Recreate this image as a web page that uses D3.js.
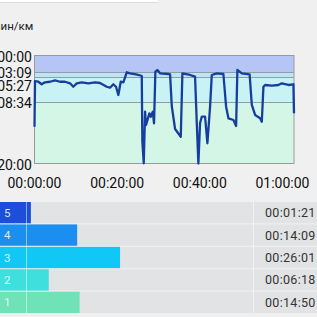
<!DOCTYPE html>
<html><head><meta charset="utf-8">
<script src="https://cdn.jsdelivr.net/npm/d3@7"></script>
<style>
html,body{margin:0;padding:0;background:#f0f0f0;overflow:hidden}
svg{display:block;font-family:Roboto,"Noto Sans",sans-serif}
</style></head>
<body>
<script>
// ---- data ----
const unitLabel = "мин/км";
// pace trace: elapsed minutes, pace (min/km)
const traceTime = [0,0.12,0.92,1.74,2.54,3.75,4.96,6.17,7.38,8.6,9.39,10.22,11.43,13.03,14.65,15.86,17.48,18.28,19.08,19.73,20.29,20.87,21.5,22.32,23.12,24.58,25.67,25.96,26.1,26.44,26.76,27.0,27.8,28.14,28.62,28.93,29.25,29.73,30.39,32.4,32.81,33.22,34.02,35.4,35.79,37.65,38.86,39.27,39.66,40.07,40.48,41.28,41.84,42.49,42.9,44.12,45.71,46.37,46.93,48.14,48.79,49.1,50.17,52.06,52.59,53.39,54.6,55.01,55.4,55.81,57.43,59.03,59.85,61.45,62.66,62.8];
const tracePace = [13.16,5.92,6.01,6.33,6.08,6.01,5.83,6.01,6.01,6.21,6.64,6.21,6.08,6.21,6.08,6.17,6.64,6.76,6.33,6.64,7.68,6.01,6.08,3.15,3.61,4.07,4.62,4.85,15.95,19.96,10.37,12.84,10.67,11.3,10.37,12.53,3.04,2.72,3.61,3.93,4.07,9.31,13.59,15.02,3.61,4.39,5.17,12.47,20,12.47,11.3,11.3,16.24,9.44,4.39,3.61,3.93,9.44,11.6,11.91,13.03,2.72,3.61,4.07,9.12,10.98,11.6,12.23,6.64,6.42,6.51,6.42,6.21,6.42,6.33,10.67];
// zone boundaries (pace, min/km) and y tick labels
const paceTicks = [0, 3.15, 5.45, 8.5667, 20];
const paceTickLabels = ["00:00","03:09","05:27","08:34","20:00"];
// x ticks (minutes)
const timeTicks = [0, 20, 40, 60];
const timeTickLabels = ["00:00:00","00:20:00","00:40:00","01:00:00"];
const totalMinutes = 62.8;
// zone histogram
const zoneNames = ["5","4","3","2","1"];
const zoneMinutes = [1 + 21/60, 14 + 9/60, 26 + 1/60, 6 + 18/60, 14 + 50/60];
const zoneLabels = ["00:01:21","00:14:09","00:26:01","00:06:18","00:14:50"];
const zoneColors = ["#1b4fdb","#1a8ff0","#11c7f5","#3edfdd","#6fe3b7"];
const bandColors = ["#b5c6f6","#bde5f6","#c8f2f3","#d4f6e7"];

// ---- layout ----
const W = 317, H = 317;
const svg = d3.select("body").append("svg").attr("width", W).attr("height", H);
svg.append("rect").attr("width", W).attr("height", H).attr("fill", "#f0f0f0");
// top card remnant
svg.append("rect").attr("x", 0).attr("y", 0).attr("width", 158).attr("height", 2).attr("fill", "#ffffff");
svg.append("rect").attr("x", 0).attr("y", 2).attr("width", 158).attr("height", 1).attr("fill", "#dcdcdc");

const plot = {l: 34.5, r: 294, t: 55.5, b: 163.5};
const x = d3.scaleLinear().domain([0, totalMinutes]).range([plot.l, plot.r]);
// pace axis: piecewise linear through the zone boundaries
const y = d3.scaleLinear().domain(paceTicks).range([plot.t, 72.3, 77.3, 102, plot.b]).clamp(true);

svg.append("text").attr("x", -8).attr("y", 30).attr("font-size", 11.5).attr("fill", "#222").text(unitLabel);

// bands
const bands = [[0,3.15],[3.15,5.45],[5.45,8.5667],[8.5667,20]];
svg.selectAll("rect.band").data(bands).enter().append("rect")
  .attr("x", plot.l).attr("width", plot.r - plot.l)
  .attr("y", d => y(d[0])).attr("height", d => y(d[1]) - y(d[0]))
  .attr("fill", (d, i) => bandColors[i]);
// boundary lines
svg.selectAll("line.zb").data(paceTicks.slice(1, 4)).enter().append("line")
  .attr("x1", plot.l).attr("x2", plot.r)
  .attr("y1", d => Math.round(y(d)) + 0.5).attr("y2", d => Math.round(y(d)) + 0.5)
  .attr("stroke", "#8d9ea6").attr("stroke-width", 1);
// border
svg.append("rect").attr("x", plot.l).attr("y", plot.t).attr("width", plot.r - plot.l).attr("height", plot.b - plot.t)
  .attr("fill", "none").attr("stroke", "#9a9a9a").attr("stroke-width", 1);

// trace
const pts = traceTime.map((t, i) => [t, tracePace[i]]);
svg.append("path").datum(pts)
  .attr("d", d3.line().x(d => x(d[0])).y(d => y(d[1])))
  .attr("fill", "none").attr("stroke", "#163e9f").attr("stroke-width", 2.3).attr("stroke-linejoin", "round");

// y labels with overlap avoidance
let prev = -1e9;
const ly = paceTicks.map(v => { let p = Math.max(y(v) + 1, prev + 12.5); prev = p; return p; });
svg.selectAll("text.yl").data(paceTickLabels).enter().append("text")
  .attr("x", 32).attr("y", (d, i) => ly[i]).attr("dy", "0.36em")
  .attr("text-anchor", "end").attr("font-size", 14).attr("fill", "#111").text(d => d);

// x labels
svg.selectAll("text.xl").data(timeTicks).enter().append("text")
  .attr("x", d => x(d)).attr("y", 183).attr("dy", "0.36em")
  .attr("text-anchor", "middle").attr("font-size", 14).attr("fill", "#111")
  .text((d, i) => timeTickLabels[i]);

// zone histogram
const rowY = d3.scaleBand().domain(zoneNames).range([202, 313]).paddingInner(0.05).paddingOuter(0);
const bx = d3.scaleLinear().domain([0, totalMinutes]).range([26, 253]);
const rows = svg.selectAll("g.row").data(zoneNames).enter().append("g");
rows.append("rect").attr("x", 0).attr("width", W).attr("y", d => rowY(d)).attr("height", rowY.bandwidth()).attr("fill", "#e2e3e5");
rows.append("rect").attr("x", 0).attr("y", d => rowY(d)).attr("height", rowY.bandwidth())
  .attr("width", (d, i) => bx(zoneMinutes[i])).attr("fill", (d, i) => zoneColors[i]);
rows.append("text").attr("x", 4).attr("y", d => rowY(d) + rowY.bandwidth() / 2).attr("dy", "0.36em")
  .attr("font-size", 11.5).attr("fill", "rgba(255,255,255,0.85)").text(d => d);
rows.append("text").attr("x", 265).attr("y", d => rowY(d) + rowY.bandwidth() / 2).attr("dy", "0.36em")
  .attr("font-size", 12.5).attr("fill", "#333").attr("letter-spacing", 0.3).text((d, i) => zoneLabels[i]);
svg.append("line").attr("x1", 26.5).attr("x2", 26.5).attr("y1", 202).attr("y2", 313).attr("stroke", "rgba(255,255,255,0.5)");
svg.append("line").attr("x1", 253.5).attr("x2", 253.5).attr("y1", 202).attr("y2", 313).attr("stroke", "#f2f2f2");
</script>
</body></html>
